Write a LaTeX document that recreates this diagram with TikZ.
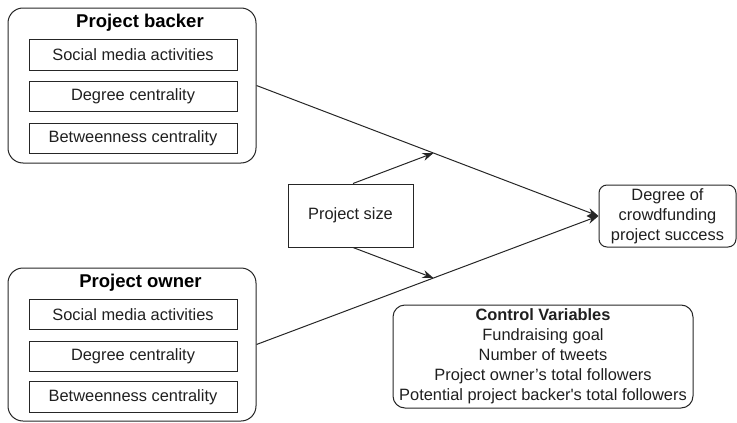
\documentclass[tikz,border=0pt]{standalone}
\usepackage{fontspec}
\setmainfont{Liberation Sans}
\newfontfamily\straightq{Liberation Sans}
\usetikzlibrary{arrows.meta,calc}
\begin{document}
\begin{tikzpicture}[x=1pt,y=-1pt,
  line width=1pt, draw=black!85,
  txt/.style={font=\fontsize{16.4}{20}\selectfont, text=black!88},
  group/.style={draw, rounded corners=15pt, minimum width=248pt, inner sep=0pt},
  item/.style={txt, draw, minimum width=208pt, minimum height=30.5pt, inner sep=0pt},
  grouptitle/.style={font=\fontsize{18.5}{22}\selectfont\bfseries, text=black, inner sep=0pt},
  link/.style={-{Stealth[length=11pt,width=8pt]}},
]
\useasboundingbox (0,0) rectangle (737,423);

% project backer group
\node[group, minimum height=155pt] (backer) at (132,85.5) {};
\node[grouptitle] (btitle) at (140,23) {Project backer};
\node[item] (b1) at (133,55) {Social media activities};
\node[item] (b2) at (133,96.5) {Degree centrality};
\node[item] (b3) at (133,138.5) {Betweenness centrality};

% project owner group
\node[group, minimum height=153pt] (owner) at (132,344.5) {};
\node[grouptitle] (otitle) at (140.5,283) {Project owner};
\node[item] (o1) at (133,314.5) {Social media activities};
\node[item] (o2) at (133,356.5) {Degree centrality};
\node[item] (o3) at (133,397) {Betweenness centrality};

% moderator
\node[txt, draw, minimum width=125pt, minimum height=63pt, inner sep=0pt] (size) at (350.5,215.5) {Project size};

% outcome
\node[txt, draw, rounded corners=8pt, minimum width=137pt, minimum height=62pt, inner sep=0pt, align=center] (succ) at (667.5,216)
  {Degree of\\crowdfunding\\project success};

% control variables
\node[txt, draw, rounded corners=12pt, minimum width=300pt, minimum height=103pt, inner sep=0pt, align=center] (ctrl) at (543,356.5)
  {\textbf{Control Variables}\\Fundraising goal\\Number of tweets\\Project owner’s total followers\\Potential project backer{\straightq '}s total followers};

% main effects
\draw[link] (backer.east) -- (succ.west);
\draw[link] (owner.east) -- (succ.west);

% moderation arrows onto the main paths
\coordinate (mb) at ($(backer.east)!0.5175!(succ.west)$);
\coordinate (mo) at ($(owner.east)!0.5175!(succ.west)$);
\draw[link] ([xshift=2.5pt]size.north) -- (mb);
\draw[link] ([xshift=2.5pt]size.south) -- (mo);
\end{tikzpicture}
\end{document}
